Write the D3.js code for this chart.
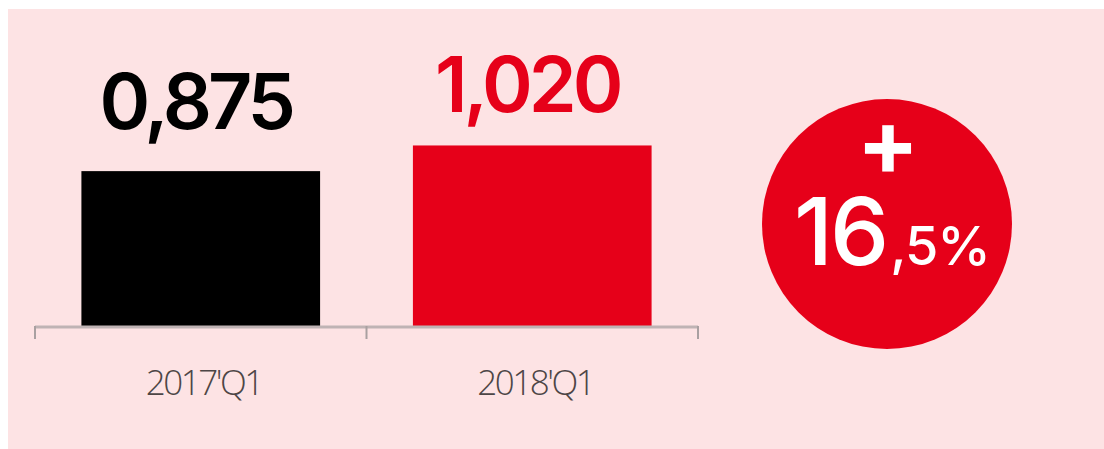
<!DOCTYPE html>
<html>
<head>
<meta charset="utf-8">
<script src="https://cdn.jsdelivr.net/npm/d3@7.9.0/dist/d3.min.js"></script>
<style>
  html, body { margin: 0; padding: 0; background: #fff; }
  svg { display: block; }
</style>
</head>
<body>
<svg id="chart" width="1104" height="449"></svg>
<script>
// chart data
const periods = ["2017'Q1", "2018'Q1"];
const values = [0.875, 1.020];
const valueLabels = ["0,875", "1,020"];
const barColors = ["#000000", "#e60019"];
const growthMain = "16";
const growthTail = ",5%";

const svg = d3.select('#chart');

// pink panel
svg.append('rect')
  .attr('x', 8).attr('y', 9)
  .attr('width', 1096).attr('height', 440)
  .attr('fill', '#fde3e4');

// scales
const x = d3.scaleBand()
  .domain(periods)
  .range([35, 698])
  .paddingInner(0.28)
  .paddingOuter(0.14);

const y = d3.scaleLinear()
  .domain([0, 1])
  .range([326, 149]);

// bars
svg.selectAll('rect.bar')
  .data(values)
  .join('rect')
  .attr('class', 'bar')
  .attr('x', (d, i) => x(periods[i]))
  .attr('y', d => y(d))
  .attr('width', x.bandwidth())
  .attr('height', d => y(0) - y(d))
  .attr('fill', (d, i) => barColors[i]);

// value labels (gap above each bar differs a little in the original)
const labelGap = [42, 33];
svg.selectAll('text.val')
  .data(values)
  .join('text')
  .attr('class', 'val')
  .attr('x', (d, i) => x(periods[i]) + x.bandwidth() / 2 - 5)
  .attr('y', (d, i) => y(d) - labelGap[i])
  .attr('text-anchor', 'middle')
  .attr('font-family', 'Inter, Lato, sans-serif')
  .attr('font-weight', 600)
  .attr('font-size', 77)
  .attr('letter-spacing', -4)
  .attr('fill', (d, i) => barColors[i])
  .text((d, i) => valueLabels[i]);

// axis line with ticks at band edges
const edges = [35, (x(periods[0]) + x.bandwidth() + x(periods[1])) / 2, 698];
svg.append('line')
  .attr('x1', 35).attr('x2', 698)
  .attr('y1', 327).attr('y2', 327)
  .attr('stroke', '#bfb3b4').attr('stroke-width', 3);
svg.selectAll('line.tick')
  .data(edges)
  .join('line')
  .attr('class', 'tick')
  .attr('x1', d => d).attr('x2', d => d)
  .attr('y1', 326).attr('y2', 339)
  .attr('stroke', '#a9a0a1').attr('stroke-width', 2);

// category labels
svg.selectAll('text.cat')
  .data(periods)
  .join('text')
  .attr('class', 'cat')
  .attr('x', d => x(d) + x.bandwidth() / 2 + 3)
  .attr('y', 395)
  .attr('text-anchor', 'middle')
  .attr('font-family', '"Open Sans", "Noto Sans", sans-serif')
  .attr('font-weight', 300)
  .attr('font-size', 35)
  .attr('letter-spacing', -2.5)
  .attr('fill', '#4d4646')
  .text(d => d);

// growth badge
const cx = 887, cy = 224;
svg.append('circle')
  .attr('cx', cx).attr('cy', cy).attr('r', 125)
  .attr('fill', '#e60019');

svg.append('text')
  .attr('x', cx + 1).attr('y', 175)
  .attr('text-anchor', 'middle')
  .attr('font-family', 'Inter, Lato, sans-serif')
  .attr('font-weight', 700)
  .attr('font-size', 92)
  .attr('fill', '#fff')
  .text('+');

const g = svg.append('text')
  .attr('x', cx + 5).attr('y', 265)
  .attr('text-anchor', 'middle')
  .attr('font-family', 'Inter, Lato, sans-serif')
  .attr('fill', '#fff');
g.append('tspan')
  .attr('font-size', 94)
  .attr('font-weight', 500)
  .attr('letter-spacing', -3)
  .text(growthMain);
g.append('tspan')
  .attr('dx', 4)
  .attr('font-size', 54)
  .attr('font-weight', 500)
  .attr('letter-spacing', -1)
  .text(growthTail);
</script>
</body>
</html>
